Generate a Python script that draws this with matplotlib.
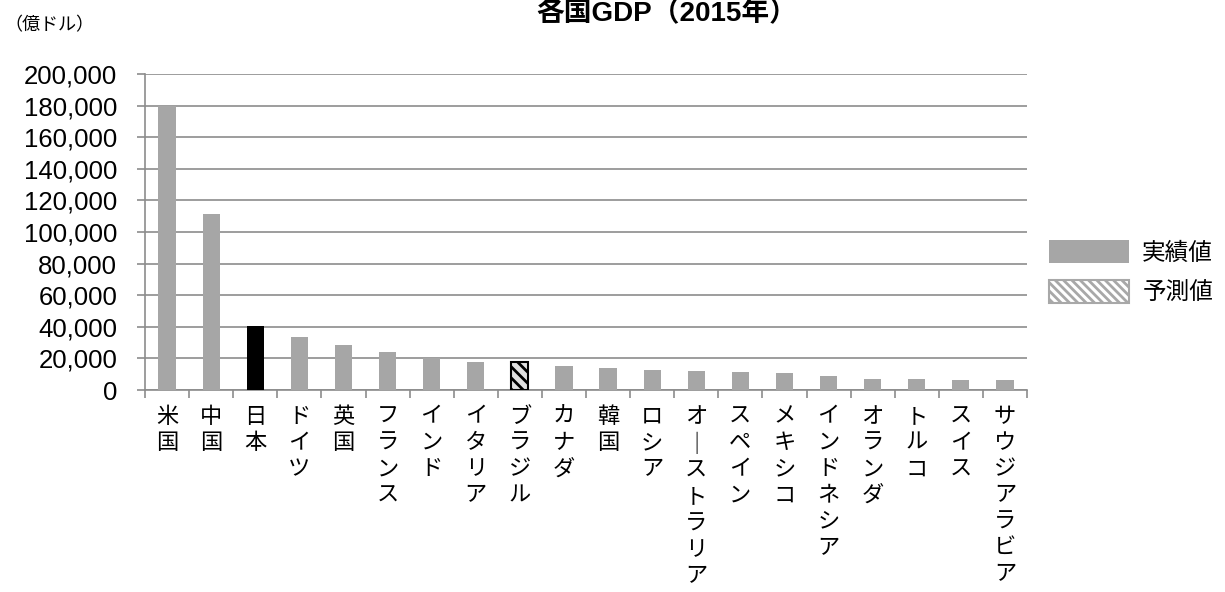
import numpy as np
import matplotlib
matplotlib.use("Agg")
import matplotlib.pyplot as plt
from matplotlib.patches import Patch
from matplotlib.ticker import FuncFormatter

plt.rcParams['font.family'] = ['Liberation Sans', 'Noto Sans CJK JP', 'DejaVu Sans']
plt.rcParams['hatch.linewidth'] = 2.0

countries = ["米国", "中国", "日本", "ドイツ", "英国", "フランス", "インド", "イタリア",
             "ブラジル", "カナダ", "韓国", "ロシア", "オーストラリア", "スペイン", "メキシコ",
             "インドネシア", "オランダ", "トルコ", "スイス", "サウジアラビア"]
gdp = [179500, 111600, 40600, 33600, 28300, 23800, 20300, 17800,
       17800, 15100, 13900, 12700, 11900, 11600, 11000,
       8700, 7100, 6800, 6500, 6300]
# 実績値 / 予測値 / 日本
kind = ["actual", "actual", "japan", "actual", "actual", "actual", "actual", "actual",
        "forecast", "actual", "actual", "actual", "actual", "actual", "actual",
        "actual", "actual", "actual", "actual", "actual"]
yticks = np.arange(0, 200001, 20000)

W, H = 1225, 592
fig = plt.figure(figsize=(W / 100, H / 100), dpi=100)
ax = fig.add_axes([145 / W, 1 - 390 / H, (1027 - 145) / W, (390 - 74) / H])

x = np.arange(len(countries))
for i, (v, k) in enumerate(zip(gdp, kind)):
    if k == "actual":
        ax.bar(i, v, width=0.39, color="#a6a6a6", zorder=3)
    elif k == "japan":
        ax.bar(i, v, width=0.39, color="black", zorder=3)
    else:
        ax.bar(i, v, width=0.39, facecolor="#e0e0e0", edgecolor="black",
               hatch="\\\\\\", linewidth=1.5, zorder=3)

ax.set_xlim(-0.5, len(countries) - 0.5)
ax.set_ylim(0, 200000)
ax.set_yticks(yticks)
ax.yaxis.set_major_formatter(FuncFormatter(lambda v, p: f"{int(v):,}"))
ax.grid(axis="y", color="#8c8c8c", linewidth=1.2, zorder=0)
ax.set_axisbelow(True)

for s in ["top", "right"]:
    ax.spines[s].set_visible(False)
for s in ["left", "bottom"]:
    ax.spines[s].set_color("#8c8c8c")
    ax.spines[s].set_linewidth(1.2)

ax.tick_params(axis="y", length=6, width=1.2, color="#8c8c8c", labelsize=18.5, pad=14)
ax.set_xticks(x)
ax.set_xticklabels(["\n".join(c.replace("ー", "｜")) for c in countries],
                   fontsize=16, linespacing=1.33, va="top")
ax.tick_params(axis="x", which="major", length=0, pad=12)
ax.set_xticks(np.arange(-0.5, len(countries)), minor=True)
ax.tick_params(axis="x", which="minor", length=6, width=1.2, color="#8c8c8c")

fig.text(667 / W, 1 - 21 / H, "各国GDP（2015年）", ha="center", va="baseline",
         fontsize=20, fontweight="bold")
fig.text(4 / W, 1 - 30 / H, "（億ドル）", ha="left", va="baseline", fontsize=13)

h1 = Patch(facecolor="#a6a6a6", edgecolor="none")
h2 = Patch(facecolor="white", edgecolor="#a8a8a8", hatch="\\\\\\\\", linewidth=1.5)
fig.legend([h1, h2], ["実績値", "予測値"], loc="upper left",
           bbox_to_anchor=(1049 / W, 1 - 240 / H), frameon=False, fontsize=17,
           handlelength=3.4, handleheight=1.15, handletextpad=0.55,
           labelspacing=0.65, borderpad=0, borderaxespad=0)

fig.savefig("out.png", dpi=100)
